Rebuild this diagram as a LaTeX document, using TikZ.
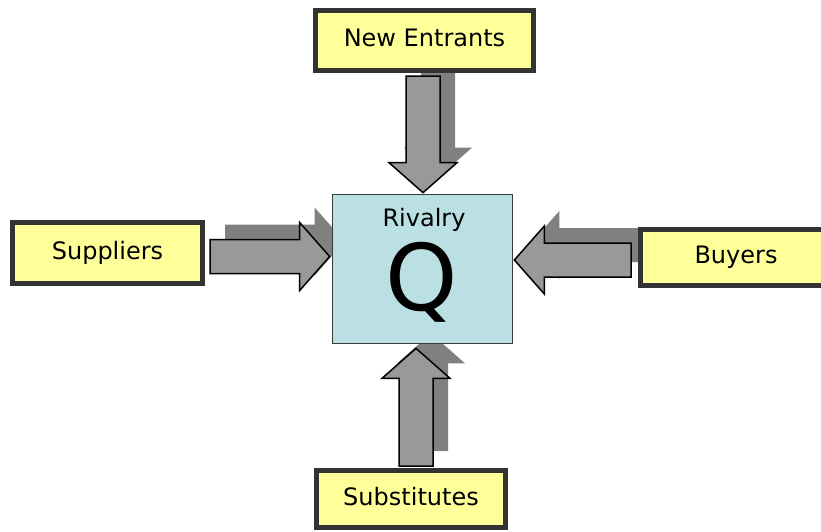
\documentclass[tikz,border=0pt]{standalone}
\usepackage{fontspec}
\setmainfont{DejaVu Sans}
\usetikzlibrary{calc,backgrounds}
\definecolor{boxyellow}{HTML}{FFFF99}
\definecolor{boxedge}{HTML}{333333}
\definecolor{rivalfill}{HTML}{BAE0E3}
\definecolor{rivaledge}{HTML}{3A3A3A}
\definecolor{arrowgray}{HTML}{999999}
\definecolor{shadegray}{HTML}{808080}
\tikzset{
  force/.style={draw=boxedge, fill=boxyellow, line width=5pt, inner sep=0pt,
    text height=18pt, text depth=6pt, font=\fontsize{24}{28}\selectfont},
  bodyarrow/.style={draw=black, fill=arrowgray, line width=1.5pt, line join=miter},
  shadearrow/.style={fill=shadegray},
}
% fat block arrow: [shift]{style}{tail}{tip}
\newcommand\fatarrow[4][(0,0)]{%
  \coordinate (fa-t) at ($(#3)+#1$);
  \coordinate (fa-p) at ($(#4)+#1$);
  \coordinate (fa-h) at ($(fa-p)!30pt!(fa-t)$);
  \path[#2] ($(fa-t)!17pt!90:(fa-p)$) -- ($(fa-h)!17pt!-90:(fa-t)$)
    -- ($(fa-h)!34pt!-90:(fa-t)$) -- (fa-p) -- ($(fa-h)!34pt!90:(fa-t)$)
    -- ($(fa-h)!17pt!90:(fa-t)$) -- ($(fa-t)!17pt!-90:(fa-p)$) -- cycle;}
\begin{document}
\begin{tikzpicture}[x=1pt, y=-1pt]
\useasboundingbox (0,0) rectangle (821,531);
% the rivalry box and the four forces
\node[draw=rivaledge, fill=rivalfill, line width=1.7pt, inner sep=0pt,
  minimum width=180pt, minimum height=149pt] (rivalry) at (422.5,269) {};
\node[anchor=base, font=\fontsize{24}{28}\selectfont] (rivtitle)
  at ($(rivalry.north)+(1.5,33)$) {Rivalry};
\node[anchor=base, font=\fontsize{92}{92}\selectfont] (rivq)
  at ($(rivalry.south)+(-1,-34)$) {Q};
\node[force, minimum width=218pt, minimum height=60pt] (newent) at (424.5,40.5) {New Entrants};
\node[force, minimum width=190pt, minimum height=61pt] (supp) at (107.5,253) {Suppliers};
\node[force, minimum width=191pt, minimum height=56pt] (buyers) at (736,257.5) {Buyers};
\node[force, minimum width=189pt, minimum height=57pt] (subst) at (411,499) {Substitutes};
% arrow ends
\coordinate (newtail) at ($(newent.south)+(-1.5,3)$);
\coordinate (newtip) at ($(rivalry.north)+(0.5,-1)$);
\coordinate (supptail) at ($(supp.east)+(5,3.5)$);
\coordinate (supptip) at ($(rivalry.west)+(-2,-12.5)$);
\coordinate (buytail) at ($(buyers.west)+(-7,2.5)$);
\coordinate (buytip) at ($(rivalry.east)+(1,-9)$);
\coordinate (subtail) at ($(subst.north)+(5,-2)$);
\coordinate (subtip) at ($(rivalry.south)+(-6.5,4)$);
% shadows
\begin{scope}[on background layer]
\fatarrow[(15,-15)]{shadearrow}{newtail}{newtip}
\fatarrow[(15,-15)]{shadearrow}{supptail}{supptip}
\fatarrow[(15,-15)]{shadearrow}{buytail}{buytip}
\fatarrow[(15,-15)]{shadearrow}{subtail}{subtip}
\end{scope}
\fatarrow{bodyarrow}{newtail}{newtip}
\fatarrow{bodyarrow}{supptail}{supptip}
\fatarrow{bodyarrow}{buytail}{buytip}
\fatarrow{bodyarrow}{subtail}{subtip}
\end{tikzpicture}
\end{document}
